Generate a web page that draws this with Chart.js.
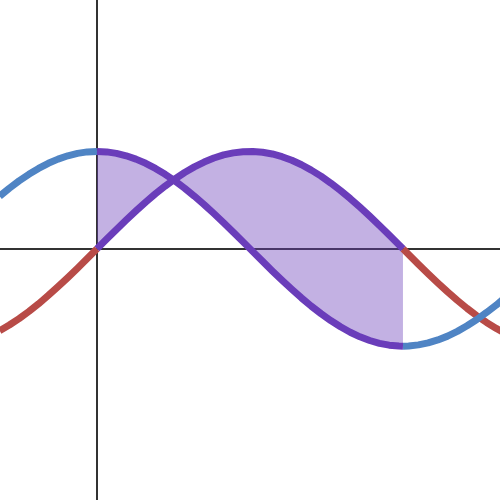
<!DOCTYPE html>
<html>
<head>
<meta charset="utf-8">
<script src="https://cdn.jsdelivr.net/npm/chart.js@4/dist/chart.umd.min.js"></script>
<style>
  html, body { margin: 0; padding: 0; background: #fff; }
  #id-canvas { display: block; }
</style>
</head>
<body>
<canvas id="id-canvas" width="500" height="500"></canvas>
<script>
// valeurs
var x_data = [-1.0,-0.9,-0.8,-0.7,-0.6,-0.5,-0.4,-0.3,-0.2,-0.1,0.0,0.1,0.2,0.3,0.4,0.5,0.6,0.7,0.8,0.9,1.0,
  1.1,1.2,1.3,1.4,1.5,1.6,1.7,1.8,1.9,2.0,2.1,2.2,2.3,2.4,2.5,2.6,2.7,2.8,2.9,3.0,3.1,3.1416,
  3.2,3.3,3.4,3.5,3.6,3.7,3.8,3.9,4.0,4.1,4.2];
var y_sin = [-0.841,-0.783,-0.717,-0.644,-0.565,-0.479,-0.389,-0.296,-0.199,-0.100,0.000,0.100,0.199,0.296,0.389,0.479,0.565,0.644,0.717,0.783,0.841,
  0.891,0.932,0.964,0.985,0.997,1.000,0.992,0.974,0.946,0.909,0.863,0.808,0.746,0.675,0.598,0.516,0.427,0.335,0.239,0.141,0.042,0.000,
  -0.058,-0.158,-0.256,-0.351,-0.443,-0.530,-0.612,-0.688,-0.757,-0.818,-0.872];
var y_cos = [0.540,0.622,0.697,0.765,0.825,0.878,0.921,0.955,0.980,0.995,1.000,0.995,0.980,0.955,0.921,0.878,0.825,0.765,0.697,0.622,0.540,
  0.454,0.362,0.267,0.170,0.071,-0.029,-0.129,-0.227,-0.323,-0.416,-0.505,-0.589,-0.666,-0.737,-0.801,-0.857,-0.904,-0.942,-0.971,-0.990,-0.999,-1.000,
  -0.998,-0.987,-0.967,-0.936,-0.897,-0.848,-0.791,-0.726,-0.654,-0.578,-0.490];
var x_start = 0;        // debut de la zone coloree
var x_end = 3.1416;     // fin de la zone coloree

(function() {
  var RED = '#b84b47';
  var BLUE = '#4f84c4';
  var PURPLE = '#6a3dba';
  var SHADE = 'rgba(106,61,186,0.4)';
  var LW = 7;

  function pts(ys, from, to) {
    var out = [];
    for (var i = 0; i < x_data.length; i++) {
      if (x_data[i] >= from && x_data[i] <= to) out.push({x: x_data[i], y: ys[i]});
    }
    return out;
  }

  function line(data, color, extra) {
    var ds = {
      data: data,
      borderColor: color,
      backgroundColor: color,
      borderWidth: LW,
      pointRadius: 0,
      showLine: true,
      fill: false,
      borderCapStyle: 'butt',
      borderJoinStyle: 'round'
    };
    return Object.assign(ds, extra || {});
  }

  var datasets = [
    line(pts(y_cos, x_start, x_end), PURPLE, {fill: {target: 1, above: SHADE, below: SHADE}}),
    line(pts(y_sin, x_start, x_end), PURPLE),
    line(pts(y_cos, -10, x_start), BLUE),
    line(pts(y_cos, x_end, 10), BLUE),
    line(pts(y_sin, -10, x_start), RED),
    line(pts(y_sin, x_end, 10), RED)
  ];

  function axisColor(c) { return c.tick && c.tick.value === 0 ? '#333333' : 'rgba(0,0,0,0)'; }

  var ctx = document.getElementById('id-canvas').getContext('2d');
  window.chart = new Chart(ctx, {
    type: 'scatter',
    data: { datasets: datasets },
    options: {
      responsive: false,
      animation: false,
      devicePixelRatio: 1,
      layout: { padding: 0 },
      plugins: {
        legend: { display: false },
        tooltip: { enabled: false },
        filler: { drawTime: 'beforeDatasetsDraw' }
      },
      scales: {
        x: {
          type: 'linear',
          min: -0.996, max: 4.138,
          ticks: { display: false, stepSize: 1 },
          border: { display: false },
          grid: { drawTicks: false, color: axisColor, lineWidth: 2 }
        },
        y: {
          type: 'linear',
          min: -2.58, max: 2.555,
          ticks: { display: false, stepSize: 1 },
          border: { display: false },
          grid: { drawTicks: false, color: axisColor, lineWidth: 2 }
        }
      }
    }
  });
})();
</script>
</body>
</html>
